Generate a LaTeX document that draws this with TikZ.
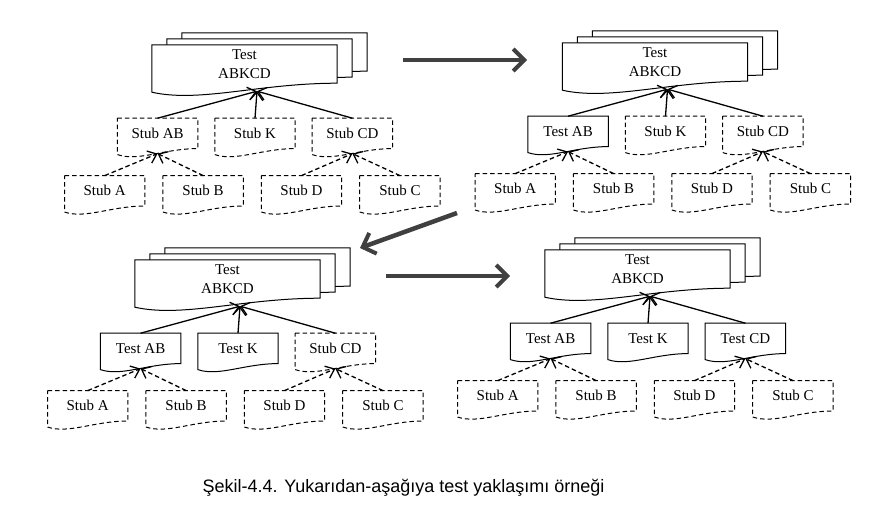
\documentclass[tikz,border=0pt]{standalone}
\usepackage{fontspec}
\setmainfont{Liberation Serif}
\newfontfamily\captionfont{Liberation Sans}
\usetikzlibrary{arrows.meta, positioning, calc}

\begin{document}
\begin{tikzpicture}[
x=1pt, y=1pt,
font=\fontsize{15pt}{18.5pt}\selectfont,
doc/.style 2 args={inner sep=0pt, align=center,
  append after command={\pgfextra{\draw[line width=1pt, #1]
    (\tikzlastnode.north west) -- (\tikzlastnode.north east)
    -- (\tikzlastnode.south east)
    .. controls ($(\tikzlastnode.south east)!0.42!(\tikzlastnode.south west)$)
    and ($(\tikzlastnode.south west)!0.26!(\tikzlastnode.south east)+(0pt,-2.2*#2)$)
    .. ($(\tikzlastnode.south west)+(0pt,-#2)$) -- cycle;}}},
page/.style={doc={fill=white}{9pt}, minimum width=185pt, minimum height=38pt},
testbox/.style={doc={}{6pt}, minimum width=80pt, minimum height=30pt},
stubbox/.style={doc={dash pattern=on 4.5pt off 3pt}{6pt}, minimum width=80pt, minimum height=30pt},
up/.style={-{Straight Barb[length=8pt,width=13pt,line width=1.3pt]}, line width=1.3pt},
stubup/.style={up, dash pattern=on 4.5pt off 3pt},
bigarrow/.style={-{Straight Barb[length=11pt,width=22pt,line width=4pt]}, line width=4.5pt, black!75}
]
\useasboundingbox (0,0) rectangle (891,-508);

% stage 1
\node[page] (m1c) at (274.5,-52) {};
\node[page] (m1b) at (259.5,-58) {};
\node[page] (m1) at (244.5,-64) {Test\\ABKCD};
\node[stubbox, below=35pt of m1, xshift=10.5pt] (k1) {Stub K};
\node[stubbox, left=17pt of k1] (ab1) {Stub AB};
\node[stubbox, right=17pt of k1] (cd1) {Stub CD};
\node[stubbox, below=27pt of ab1, xshift=45.5pt] (b1) {Stub B};
\node[stubbox, left=18pt of b1] (a1) {Stub A};
\node[stubbox, right=18pt of b1] (d1) {Stub D};
\node[stubbox, right=18pt of d1] (c1) {Stub C};
\coordinate (in1) at ([xshift=12.5pt, yshift=-8pt]m1.south);
\draw[up] (ab1.north) -- (in1);
\draw[up] (k1.north) -- (in1);
\draw[up] (cd1.north) -- (in1);
\draw[stubup] (a1.north) -- ([yshift=-5pt]ab1.south);
\draw[stubup] (b1.north) -- ([yshift=-5pt]ab1.south);
\draw[stubup] (d1.north) -- ([yshift=-5pt]cd1.south);
\draw[stubup] (c1.north) -- ([yshift=-5pt]cd1.south);

% stage 2
\node[page] (m2c) at (685,-50) {};
\node[page] (m2b) at (670,-56) {};
\node[page] (m2) at (655,-62) {Test\\ABKCD};
\node[stubbox, below=35pt of m2, xshift=10.5pt] (k2) {Stub K};
\node[testbox, left=17pt of k2] (ab2) {Test AB};
\node[stubbox, right=17pt of k2] (cd2) {Stub CD};
\node[stubbox, below=27pt of ab2, xshift=45.5pt] (b2) {Stub B};
\node[stubbox, left=18pt of b2] (a2) {Stub A};
\node[stubbox, right=18pt of b2] (d2) {Stub D};
\node[stubbox, right=18pt of d2] (c2) {Stub C};
\coordinate (in2) at ([xshift=12.5pt, yshift=-8pt]m2.south);
\draw[up] (ab2.north) -- (in2);
\draw[up] (k2.north) -- (in2);
\draw[up] (cd2.north) -- (in2);
\draw[stubup] (a2.north) -- ([yshift=-5pt]ab2.south);
\draw[stubup] (b2.north) -- ([yshift=-5pt]ab2.south);
\draw[stubup] (d2.north) -- ([yshift=-5pt]cd2.south);
\draw[stubup] (c2.north) -- ([yshift=-5pt]cd2.south);

% stage 3
\node[page] (m3c) at (257.5,-267) {};
\node[page] (m3b) at (242.5,-273) {};
\node[page] (m3) at (227.5,-279) {Test\\ABKCD};
\node[testbox, below=35pt of m3, xshift=10.5pt] (k3) {Test K};
\node[testbox, left=17pt of k3] (ab3) {Test AB};
\node[stubbox, right=17pt of k3] (cd3) {Stub CD};
\node[stubbox, below=27pt of ab3, xshift=45.5pt] (b3) {Stub B};
\node[stubbox, left=18pt of b3] (a3) {Stub A};
\node[stubbox, right=18pt of b3] (d3) {Stub D};
\node[stubbox, right=18pt of d3] (c3) {Stub C};
\coordinate (in3) at ([xshift=12.5pt, yshift=-8pt]m3.south);
\draw[up] (ab3.north) -- (in3);
\draw[up] (k3.north) -- (in3);
\draw[up] (cd3.north) -- (in3);
\draw[stubup] (a3.north) -- ([yshift=-5pt]ab3.south);
\draw[stubup] (b3.north) -- ([yshift=-5pt]ab3.south);
\draw[stubup] (d3.north) -- ([yshift=-5pt]cd3.south);
\draw[stubup] (c3.north) -- ([yshift=-5pt]cd3.south);

% stage 4
\node[page] (m4c) at (667.5,-257) {};
\node[page] (m4b) at (652.5,-263) {};
\node[page] (m4) at (637.5,-269) {Test\\ABKCD};
\node[testbox, below=35pt of m4, xshift=10.5pt] (k4) {Test K};
\node[testbox, left=17pt of k4] (ab4) {Test AB};
\node[testbox, right=17pt of k4] (cd4) {Test CD};
\node[stubbox, below=27pt of ab4, xshift=45.5pt] (b4) {Stub B};
\node[stubbox, left=18pt of b4] (a4) {Stub A};
\node[stubbox, right=18pt of b4] (d4) {Stub D};
\node[stubbox, right=18pt of d4] (c4) {Stub C};
\coordinate (in4) at ([xshift=12.5pt, yshift=-8pt]m4.south);
\draw[up] (ab4.north) -- (in4);
\draw[up] (k4.north) -- (in4);
\draw[up] (cd4.north) -- (in4);
\draw[stubup] (a4.north) -- ([yshift=-5pt]ab4.south);
\draw[stubup] (b4.north) -- ([yshift=-5pt]ab4.south);
\draw[stubup] (d4.north) -- ([yshift=-5pt]cd4.south);
\draw[stubup] (c4.north) -- ([yshift=-5pt]cd4.south);

% steps between stages
\coordinate (go1) at (403,-60);
\coordinate (to1) at (527,-60);
\coordinate (go2) at (457,-213);
\coordinate (to2) at (360,-248);
\coordinate (go3) at (386,-276);
\coordinate (to3) at (510,-276);
\draw[bigarrow] (go1) -- (to1);
\draw[bigarrow] (go2) -- (to2);
\draw[bigarrow] (go3) -- (to3);

\node[font=\captionfont\fontsize{18pt}{22pt}\selectfont, anchor=base] (caption) at (403.5,-492)
  {Şekil-4.4. Yukarıdan-aşağıya test yaklaşımı örneği};

\end{tikzpicture}
\end{document}
